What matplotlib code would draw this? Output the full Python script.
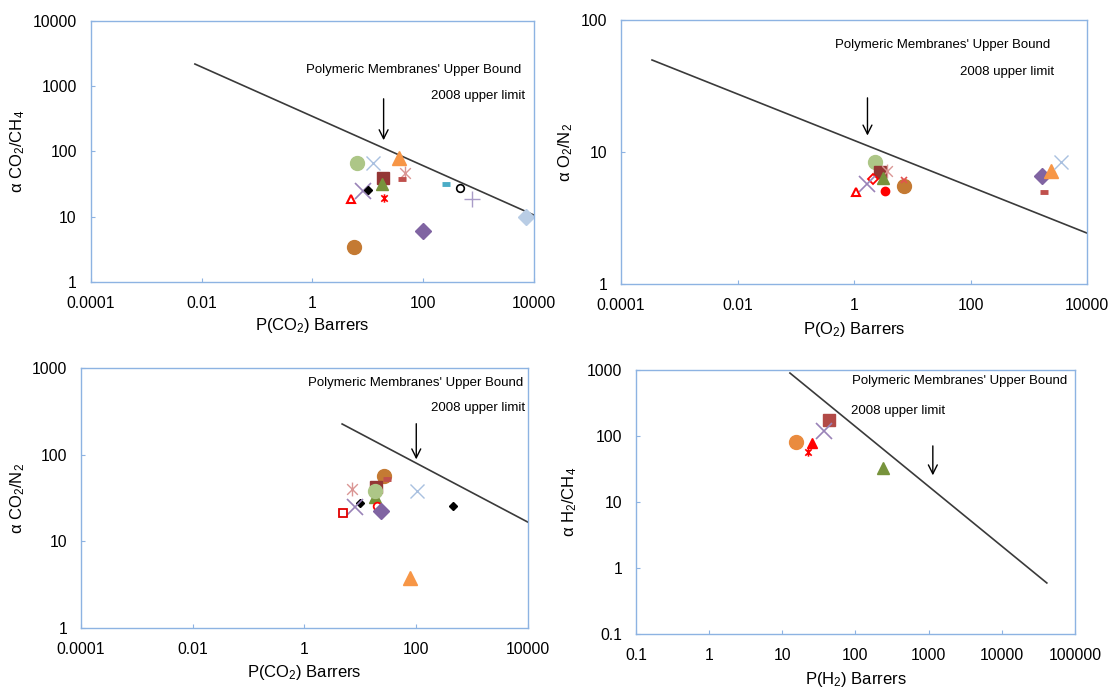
import matplotlib.pyplot as plt
from matplotlib.path import Path
from matplotlib.ticker import NullLocator

plt.rcParams['font.family'] = ['Liberation Sans', 'DejaVu Sans']
plt.rcParams['mathtext.default'] = 'regular'

# CO2/CH4 panel
co2ch4_p = [6.5, 12.3, 36, 47, 41, 18.6, 18.2, 8.2, 10, 4.9, 19.5, 257, 452, 758, 7180, 98, 5.6]
co2ch4_a = [67, 67, 80, 47, 37.5, 38.9, 31.8, 25, 26, 18.5, 19.6, 31.6, 27.3, 18.7, 9.8, 6.0, 3.46]
co2ch4_m = ['lgreen_circle', 'lblue_x', 'orange_tri', 'pink_star', 'red_dash', 'dred_square',
            'green_tri', 'purple_x', 'black_diamond', 'red_otri', 'red_star', 'teal_dash',
            'black_ocircle', 'lav_plus', 'lblue_diamond', 'purple_diamond', 'brown_circle']
co2ch4_bound_p = [0.0076, 10000]
co2ch4_bound_a = [2190, 10.6]
co2ch4_arrow = [19.3, 708, 135]

# O2/N2 panel
o2n2_p = [2.32, 2.76, 3.7, 2.09, 3.09, 1.67, 1.06, 3.36, 7.1, 7.1, 1700, 2440, 3560, 1845]
o2n2_a = [8.36, 7.0, 7.2, 6.2, 6.3, 5.7, 5.0, 5.1, 5.5, 6.1, 6.6, 7.2, 8.4, 4.95]
o2n2_m = ['lgreen_circle', 'dred_square', 'pink_star', 'red_odiamond', 'green_tri', 'purple_x',
          'red_otri', 'red_circle', 'brown_circle', 'red_smallx', 'purple_diamond', 'orange_tri',
          'lblue_x', 'red_dash']
o2n2_bound_p = [0.00034, 10000]
o2n2_bound_a = [49.8, 2.43]
o2n2_arrow = [1.7, 27, 12.7]

# CO2/N2 panel
co2n2_p = [27.2, 30.8, 7.1, 19.4, 18.3, 18.3, 106, 10.1, 8.1, 19.9, 23.8, 4.9, 451, 78.7]
co2n2_a = [57.3, 52.9, 40.2, 42.8, 32.8, 38.1, 37.8, 27.9, 25, 25.8, 22.4, 21.4, 25.4, 3.75]
co2n2_m = ['brown_circle', 'red_dash', 'pink_star', 'dred_square', 'green_tri', 'lgreen_circle',
           'lblue_x', 'black_diamond', 'purple_x', 'red_ocircle', 'purple_diamond', 'red_osquare',
           'black_diamond', 'orange_tri']
co2n2_bound_p = [4.75, 10000]
co2n2_bound_a = [226, 16.7]
co2n2_arrow = [101, 245, 82]

# H2/CH4 panel
h2ch4_p = [43.7, 37.3, 15.2, 25.1, 22.6, 234]
h2ch4_a = [175, 120, 82, 79, 57.8, 32.4]
h2ch4_m = ['mred_square', 'purple_x', 'orange_circle', 'red_tri', 'red_star', 'green_tri']
h2ch4_bound_p = [12.7, 41200]
h2ch4_bound_a = [900, 0.593]
h2ch4_arrow = [1140, 78, 23]

ticks_wide = [0.0001, 0.01, 1, 100, 10000]
ticks_wide_lbl = ['0.0001', '0.01', '1', '100', '10000']
ticks_h2 = [0.1, 1, 10, 100, 1000, 10000, 100000]
ticks_h2_lbl = ['0.1', '1', '10', '100', '1000', '10000', '100000']

star = Path([(-1, -1), (1, 1), (-1, 1), (1, -1), (0, -1.3), (0, 1.3)],
            [Path.MOVETO, Path.LINETO, Path.MOVETO, Path.LINETO, Path.MOVETO, Path.LINETO])

styles = {
    'lgreen_circle': dict(marker='o', ms=10, color='#ADC687'),
    'lblue_x': dict(marker='x', ms=10, color='#A9C0E0', mew=1),
    'orange_tri': dict(marker='^', ms=10, color='#F79646'),
    'pink_star': dict(marker=star, ms=10, color='#DA9694', mfc='none', mew=1),
    'red_dash': dict(marker='_', ms=6, color='#C0504D', mew=3.5),
    'dred_square': dict(marker='s', ms=8, color='#943634'),
    'mred_square': dict(marker='s', ms=8, color='#B24A47'),
    'green_tri': dict(marker='^', ms=8, color='#77933C'),
    'purple_x': dict(marker='x', ms=11, color='#9983B8', mew=1.2),
    'black_diamond': dict(marker='D', ms=4.5, color='black'),
    'red_otri': dict(marker='^', ms=6, color='red', mfc='white', mew=1.5),
    'red_star': dict(marker=star, ms=6, color='red', mfc='none', mew=1.2),
    'teal_dash': dict(marker='_', ms=6, color='#4BACC6', mew=3.5),
    'black_ocircle': dict(marker='o', ms=5.5, color='black', mfc='white', mew=1.2),
    'lav_plus': dict(marker='+', ms=11, color='#A99CC8', mew=1),
    'lblue_diamond': dict(marker='D', ms=8, color='#B9CDE5'),
    'purple_diamond': dict(marker='D', ms=8.5, color='#8064A2'),
    'brown_circle': dict(marker='o', ms=10, color='#C47A33'),
    'red_odiamond': dict(marker='D', ms=5, color='red', mfc='white', mew=1.3),
    'red_circle': dict(marker='o', ms=6, color='red'),
    'red_smallx': dict(marker='x', ms=5, color='#E35050', mew=1.2),
    'red_ocircle': dict(marker='o', ms=5.5, color='red', mfc='white', mew=1.3),
    'red_osquare': dict(marker='s', ms=6, color='#E00000', mfc='white', mew=1.3),
    'orange_circle': dict(marker='o', ms=10, color='#EA8B3E'),
    'red_tri': dict(marker='^', ms=6.5, color='red'),
}

frame = '#8DB3E2'

fig = plt.figure(figsize=(11.14, 6.88), dpi=100)


def panel(rect, px, ay, kinds, bp, ba, arrow, xlim, ylim, xt, xtl, yt, ytl,
          xlab, ylab, ylab_x, xlab_y, txt1, txt2):
    ax = fig.add_axes(rect)
    ax.set_xscale('log')
    ax.set_yscale('log')
    ax.plot(bp, ba, color='#3A3A3A', lw=1.2)
    for x, y, k in zip(px, ay, kinds):
        ax.plot([x], [y], linestyle='none', **styles[k])
    ax.annotate('', xy=(arrow[0], arrow[2]), xytext=(arrow[0], arrow[1]),
                arrowprops=dict(arrowstyle='->', color='black', lw=1, mutation_scale=16))
    ax.set_xlim(xlim)
    ax.set_ylim(ylim)
    ax.set_xticks(xt, xtl)
    ax.set_yticks(yt, ytl)
    ax.xaxis.set_minor_locator(NullLocator())
    ax.yaxis.set_minor_locator(NullLocator())
    for s in ax.spines.values():
        s.set_color(frame)
        s.set_linewidth(1)
    ax.tick_params(axis='both', direction='in', length=3, color=frame, labelsize=11.3)
    ax.tick_params(axis='x', pad=10)
    ax.tick_params(axis='y', pad=10)
    ax.set_xlabel(xlab, fontsize=12, va='top')
    ax.set_ylabel(ylab, fontsize=12)
    ax.xaxis.set_label_coords(0.5, xlab_y)
    ax.yaxis.set_label_coords(ylab_x, 0.5)
    ax.text(txt1[0], txt1[1], "Polymeric Membranes' Upper Bound", transform=ax.transAxes,
            ha='center', va='center', fontsize=9.5)
    ax.text(txt2[0], txt2[1], '2008 upper limit', transform=ax.transAxes,
            ha='center', va='center', fontsize=9.5)
    return ax


panel([0.0814, 0.5901, 0.398, 0.3794], co2ch4_p, co2ch4_a, co2ch4_m, co2ch4_bound_p, co2ch4_bound_a,
      co2ch4_arrow, (0.0001, 10000), (1, 10000), ticks_wide, ticks_wide_lbl,
      [1, 10, 100, 1000, 10000], ['1', '10', '100', '1000', '10000'],
      'P(CO$_2$) Barrers', r'$\alpha$ CO$_2$/CH$_4$', -0.144, -0.132, (0.729, 0.812), (0.874, 0.713))

panel([0.5575, 0.5872, 0.4183, 0.3837], o2n2_p, o2n2_a, o2n2_m, o2n2_bound_p, o2n2_bound_a,
      o2n2_arrow, (0.0001, 10000), (1, 100), ticks_wide, ticks_wide_lbl,
      [1, 10, 100], ['1', '10', '100'],
      'P(O$_2$) Barrers', r'$\alpha$ O$_2$/N$_2$', -0.099, -0.136, (0.691, 0.905), (0.828, 0.803))

panel([0.0727, 0.0872, 0.401, 0.3779], co2n2_p, co2n2_a, co2n2_m, co2n2_bound_p, co2n2_bound_a,
      co2n2_arrow, (0.0001, 10000), (1, 1000), ticks_wide, ticks_wide_lbl,
      [1, 10, 100, 1000], ['1', '10', '100', '1000'],
      'P(CO$_2$) Barrers', r'$\alpha$ CO$_2$/N$_2$', -0.121, -0.135, (0.75, 0.942), (0.889, 0.846))

panel([0.5709, 0.0785, 0.3941, 0.3837], h2ch4_p, h2ch4_a, h2ch4_m, h2ch4_bound_p, h2ch4_bound_a,
      h2ch4_arrow, (0.1, 100000), (0.1, 1000), ticks_h2, ticks_h2_lbl,
      [0.1, 1, 10, 100, 1000], ['0.1', '1', '10', '100', '1000'],
      'P(H$_2$) Barrers', r'$\alpha$ H$_2$/CH$_4$', -0.13, -0.138, (0.738, 0.958), (0.597, 0.845))

fig.savefig('out.png', dpi=100)
